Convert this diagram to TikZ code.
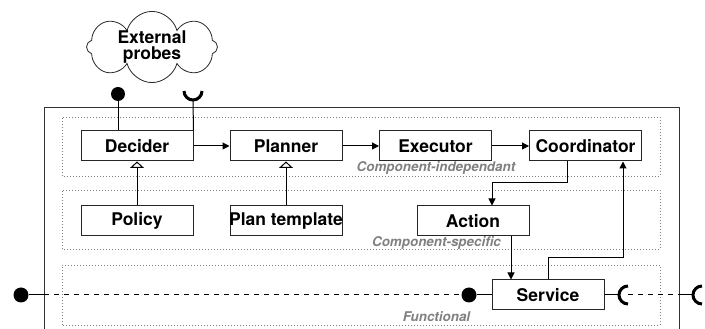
\documentclass[tikz,border=0pt]{standalone}
\usepackage{fontspec}
\setmainfont{TeX Gyre Heros}
\usetikzlibrary{shapes.symbols,arrows.meta}
\begin{document}
\begin{tikzpicture}[x=1pt,y=1pt,
  box/.style={draw=black!85, line width=1pt, minimum width=112pt, minimum height=30pt, inner sep=0pt, font=\fontsize{17.5}{20}\selectfont\bfseries},
  zone/.style={draw=gray, line width=0.8pt, dash pattern=on 0.8pt off 2.2pt},
  zlabel/.style={text=gray, font=\fontsize{13.4}{15}\selectfont\bfseries\itshape, inner sep=0pt},
  conn/.style={line width=1pt},
  arr/.style={conn, -{Triangle[length=7pt,width=7pt]}},
  gen/.style={conn, -{Triangle[open,length=6.5pt,width=14pt]}},
  ball/.style={circle, fill=black, inner sep=0pt, minimum size=15pt},
  sock/.style={line width=3pt},
  dashline/.style={conn, dash pattern=on 5pt off 5pt},
]
\useasboundingbox (0,0) rectangle (705,329);
\clip (0,0) rectangle (705,329);
% main component box
\draw[line width=1pt, draw=black!80] (44,-10) -- (44,221) -- (679,221) -- (679,-10);
% zones
\draw[zone] (62,153) rectangle (660,212);
\draw[zone] (62,80) rectangle (660,139);
\draw[zone] (62,4) rectangle (660,64);
% boxes
\node[box] (dec) at (137,183) {Decider};
\node[box] (pla) at (286,183) {Planner};
\node[box] (exe) at (435.5,183) {Executor};
\node[box] (coo) at (585.5,183) {Coordinator};
\node[box] (pol) at (137,108) {Policy};
\node[box] (tpl) at (286,108) {\makebox[100pt]{Plan template}};
\node[box] (act) at (473,108) {Action};
\node[box] (srv) at (548,34) {Service};
% zone labels
\node[zlabel] (l1) at (436,161) {Component-independant};
\node[zlabel] (l2) at (436.5,86.5) {Component-specific};
\node[zlabel] (l3) at (436.5,12) {Functional};
% cloud
\node[cloud, draw=black!85, line width=0.8pt, cloud puffs=8, cloud ignores aspect, minimum width=131pt, minimum height=67pt, inner sep=0pt, align=center, font=\fontsize{17.5}{16}\selectfont\bfseries] (ext) at (152,282) {External\\probes};
% provided / required interfaces of Decider
\node[ball, minimum size=14pt] (b1) at (118,235) {};
\draw[conn] (b1) -- (b1 |- dec.north);
\coordinate (s1) at (193,238);
\coordinate (s1b) at (193,229);
\draw[sock] (s1) ++(-9,0) arc[start angle=180, end angle=360, radius=9];
\draw[conn] (s1b) -- (dec.north east);
% flow arrows
\draw[arr] (dec.east) -- (pla.west);
\draw[arr] (pla.east) -- (exe.west);
\draw[arr] (exe.east) -- (coo.west);
\draw[gen] (pol.north) -- (dec.south);
\draw[gen] (tpl.north) -- (pla.south);
\coordinate (ca1) at (567,146);
\coordinate (ca2) at (492,146);
\draw[arr] (ca1 |- coo.south) -- (ca1) -- (ca2) -- (ca2 |- act.north);
\coordinate (as) at (511,0);
\draw[arr] (as |- act.south) -- (as |- srv.north);
\coordinate (sc1) at (548,71);
\coordinate (sc2) at (623,71);
\draw[arr] (sc1 |- srv.north) -- (sc1) -- (sc2) -- (sc2 |- coo.south);
% service line
\node[ball] (bl) at (21,34) {};
\node[ball] (br) at (469,34) {};
\coordinate (ml) at (44,34);
\coordinate (mr) at (679,34);
\draw[conn] (bl) -- (ml);
\draw[dashline] (ml) -- (br);
\draw[conn] (br) -- (srv.west);
\coordinate (k1) at (628,34);
\coordinate (k1l) at (619,34);
\draw[sock] (k1) ++(0,9) arc[start angle=90, end angle=270, radius=9];
\draw[conn] (srv.east) -- (k1l);
\draw[dashline] (k1) -- (mr);
\coordinate (k2) at (702,34);
\coordinate (k2l) at (693,34);
\draw[sock] (k2) ++(0,9) arc[start angle=90, end angle=270, radius=9];
\draw[conn] (mr) -- (k2l);
\end{tikzpicture}
\end{document}
